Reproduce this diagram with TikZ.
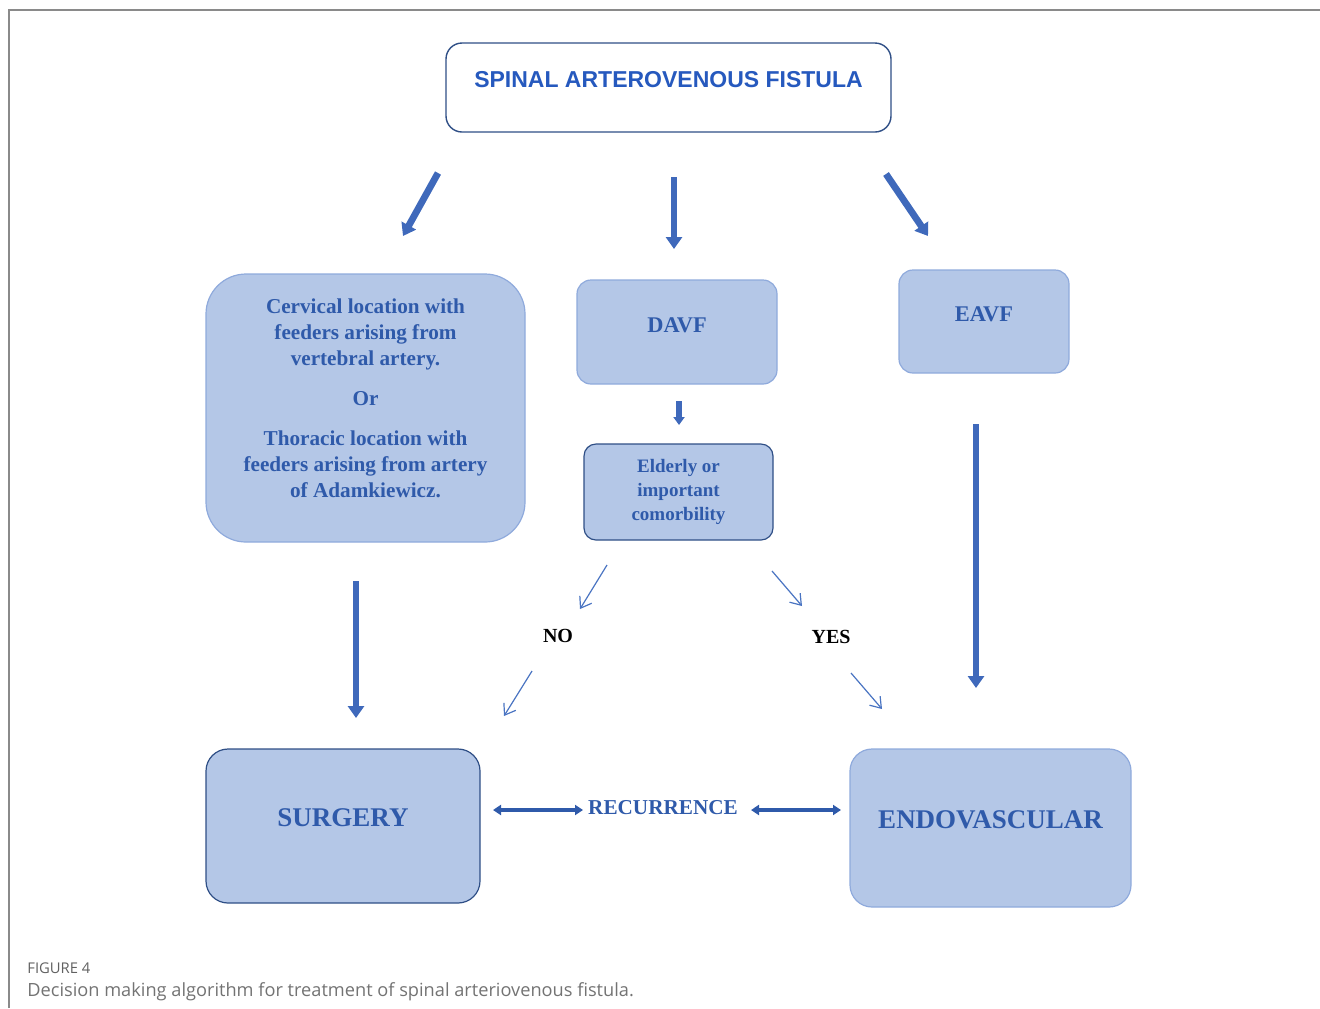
\documentclass[tikz,border=0pt]{standalone}
\usepackage{fontspec}
\setmainfont{Liberation Serif}
\newfontfamily\arialfont{Liberation Sans}
\newfontfamily\captionfont{Open Sans}
\usetikzlibrary{arrows.meta}
\definecolor{boxfill}{HTML}{B4C7E7}
\definecolor{boxedge}{HTML}{8FAADC}
\definecolor{darkedge}{HTML}{2F4F86}
\definecolor{boxtext}{HTML}{2F5AAA}
\definecolor{titletext}{HTML}{2659BE}
\definecolor{arrowblue}{HTML}{3F69BB}
\definecolor{thinblue}{HTML}{4A74C2}
\definecolor{framegrey}{HTML}{8A8A8A}

\tikzset{
  bluebox/.style={draw=boxedge, fill=boxfill, line width=0.6pt, text=boxtext, align=center},
  oneline/.style={text height=0pt, text depth=0pt},
  titlebox/.style={draw=darkedge, fill=white, line width=0.7pt, rounded corners=8pt, text=titletext,
    font=\arialfont\bfseries\fontsize{11.5}{13}\selectfont},
  blockarrow/.style={draw=arrowblue, line width=3.4pt, -{Triangle[width=8pt,length=6pt]}},
  smallarrow/.style={draw=arrowblue, line width=2.6pt, -{Triangle[width=5.5pt,length=4pt]}},
  twoway/.style={draw=boxtext, line width=2pt, {Triangle[width=5pt,length=4pt]}-{Triangle[width=5pt,length=4pt]}},
  thinarrow/.style={draw=thinblue, line width=0.6pt, -{Straight Barb[length=5pt,width=7pt]}},
  answer/.style={font=\bfseries\fontsize{10}{12}\selectfont, text=black},
  caption/.style={anchor=west, inner sep=0pt},
}

\begin{document}
\begin{tikzpicture}[x=0.5pt, y=-0.5pt]
\useasboundingbox (0,0) rectangle (1320,1008);
\draw[framegrey, line width=0.9pt] (9,1008) -- (9,10) -- (1320,10);

% boxes
\node[titlebox, oneline, minimum width=222.5pt, minimum height=44.5pt] (title) at (668.5,87.5) {SPINAL ARTEROVENOUS FISTULA};
\node[bluebox, rounded corners=20pt, minimum width=159.5pt, minimum height=134pt,
  font=\bfseries\fontsize{10.6}{13}\selectfont] (site) at (365.5,408)
  {Cervical location with\\feeders arising from\\vertebral artery.\\[7pt]Or\\[7pt]Thoracic location with\\feeders arising from artery\\of Adamkiewicz.\\[-3pt]\mbox{}};
\node[bluebox, oneline, rounded corners=7pt, minimum width=100pt, minimum height=52pt,
  font=\bfseries\fontsize{11.2}{13}\selectfont] (davf) at (677,332) {DAVF};
\node[bluebox, oneline, rounded corners=7pt, minimum width=85pt, minimum height=51.5pt,
  font=\bfseries\fontsize{11.2}{13}\selectfont] (eavf) at (984,321.5) {EAVF};
\node[bluebox, draw=darkedge, rounded corners=6pt, minimum width=94.5pt, minimum height=48pt,
  font=\bfseries\fontsize{9.5}{12}\selectfont] (elder) at (678.5,492) {Elderly or\\important\\comorbility};
\node[bluebox, oneline, draw=darkedge, rounded corners=11pt, minimum width=137pt, minimum height=77pt,
  font=\bfseries\fontsize{13.5}{16}\selectfont] (surg) at (343,826) {SURGERY};
\node[bluebox, oneline, rounded corners=11pt, minimum width=140.5pt, minimum height=79pt,
  font=\bfseries\fontsize{13.5}{16}\selectfont] (endo) at (990.5,828) {ENDOVASCULAR};

% labels between the boxes
\node[answer] (no) at (558,636) {NO};
\node[answer] (yes) at (831,637) {YES};
\node[font=\bfseries\fontsize{10.6}{12}\selectfont, text=boxtext] (recur) at (663,808) {RECURRENCE};

% arrow ends
\coordinate (lt) at (438,173); \coordinate (lh) at (403,236);
\coordinate (mt) at (674,177); \coordinate (mh) at (674,249);
\coordinate (rt) at (886,174); \coordinate (rh) at (928,236);
\coordinate (dt) at (679,401); \coordinate (dh) at (679,425);
\coordinate (st) at (356,581); \coordinate (sh) at (356,718);
\coordinate (et) at (976,424); \coordinate (eh) at (976,688);
\coordinate (n1t) at (607,565); \coordinate (n1h) at (580,609);
\coordinate (n2t) at (532,671); \coordinate (n2h) at (504,716);
\coordinate (y1t) at (772,571); \coordinate (y1h) at (802,606);
\coordinate (y2t) at (851,673); \coordinate (y2h) at (882,709);
\coordinate (ra) at (493,810); \coordinate (rb) at (583,810);
\coordinate (rc) at (751,810); \coordinate (rd) at (841,810);

\draw[blockarrow] (lt) -- (lh);
\draw[blockarrow] (mt) -- (mh);
\draw[blockarrow] (rt) -- (rh);
\draw[smallarrow] (dt) -- (dh);
\draw[blockarrow] (st) -- (sh);
\draw[blockarrow] (et) -- (eh);
\draw[thinarrow] (n1t) -- (n1h);
\draw[thinarrow] (n2t) -- (n2h);
\draw[thinarrow] (y1t) -- (y1h);
\draw[thinarrow] (y2t) -- (y2h);
\draw[twoway] (ra) -- (rb);
\draw[twoway] (rc) -- (rd);

% caption
\node[caption, text=black!62, font=\captionfont\fontsize{7.4}{9}\selectfont] (fig) at (27,968) {FIGURE 4};
\node[caption, text=black!55, font=\captionfont\fontsize{9.1}{11}\selectfont] (cap) at (27,992) {Decision making algorithm for treatment of spinal arteriovenous fistula.};
\end{tikzpicture}
\end{document}
